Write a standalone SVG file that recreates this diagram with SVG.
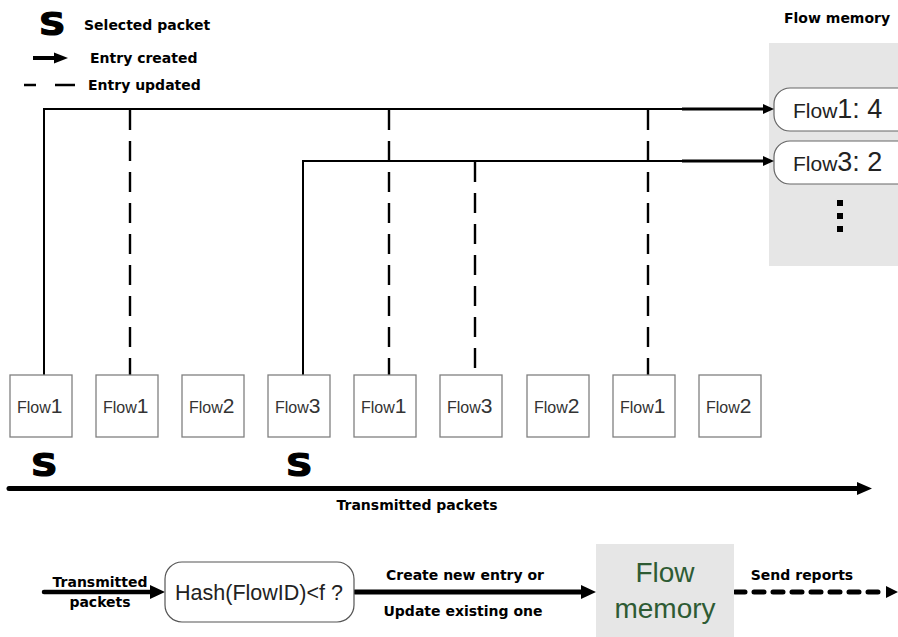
<svg xmlns="http://www.w3.org/2000/svg" width="898" height="637" viewBox="0 0 898 637">
<style>
.lbl{font-family:"DejaVu Sans",sans-serif;font-weight:bold;font-size:14px;fill:#000}
.big{font-family:"DejaVu Sans",sans-serif;font-weight:bold;font-size:32px;fill:#000;stroke:#000;stroke-width:1.2}
.pkt rect{fill:#fff;stroke:#808080;stroke-width:1.3}
.pkt text{font-family:"Liberation Sans",Arial,sans-serif;fill:#333;font-size:16px}
.solid{stroke:#000;stroke-width:2;fill:none}
.dash{stroke:#000;stroke-width:2.4;fill:none;stroke-dasharray:20 11}
.mem{fill:#e6e6e6}
.entry rect{fill:#fff;stroke:#666;stroke-width:1.2}
.entry text{font-family:"Liberation Sans",Arial,sans-serif;fill:#222;font-size:21px}
</style>

<!-- legend -->
<g id="legend">
  <text class="big" x="39" y="35" transform="translate(39 0) scale(1.15 1) translate(-39 0)">S</text>
  <text class="lbl" x="84" y="30">Selected packet</text>
  <line x1="33" y1="58" x2="56" y2="58" stroke="#000" stroke-width="4"/>
  <polygon points="54,52.5 68,58 54,63.5" fill="#000"/>
  <text class="lbl" x="90" y="63">Entry created</text>
  <line x1="24" y1="85" x2="36" y2="85" stroke="#000" stroke-width="2.5"/>
  <line x1="55" y1="85" x2="75" y2="85" stroke="#000" stroke-width="2.5"/>
  <text class="lbl" x="88" y="90">Entry updated</text>
</g>

<!-- flow memory panel -->
<g id="flow-memory">
  <rect class="mem" x="769" y="43" width="129" height="223"/>
  <text class="lbl" x="784" y="23">Flow memory</text>
  <g id="entry1" class="entry">
    <rect x="774" y="88" width="140" height="43" rx="16"/>
    <text x="793" y="118">Flow<tspan style="font-size:27px">1: 4</tspan></text>
  </g>
  <g id="entry3" class="entry">
    <rect x="774" y="141" width="140" height="43" rx="16"/>
    <text x="793" y="171">Flow<tspan style="font-size:27px">3: 2</tspan></text>
  </g>
  <rect x="837" y="200" width="6" height="6" fill="#000"/>
  <rect x="837" y="213" width="6" height="6" fill="#000"/>
  <rect x="837" y="226" width="6" height="6" fill="#000"/>
</g>

<!-- connectors -->
<g id="connectors">
  <polyline class="solid" points="44,375 44,109 684,109"/>
  <line x1="682" y1="109" x2="765" y2="109" stroke="#000" stroke-width="3"/>
  <polygon points="763,104 774,109 763,114" fill="#000"/>
  <polyline class="solid" points="303,375 303,161 684,161"/>
  <line x1="682" y1="161" x2="765" y2="161" stroke="#000" stroke-width="3"/>
  <polygon points="763,156 774,161 763,166" fill="#000"/>
  <line class="dash" x1="130" y1="110" x2="130" y2="375"/>
  <line class="dash" x1="389" y1="110" x2="389" y2="375"/>
  <line class="dash" x1="475" y1="162" x2="475" y2="375"/>
  <line class="dash" x1="648" y1="110" x2="648" y2="375"/>

  <!-- time axis -->
  <line x1="9" y1="488.5" x2="860" y2="488.5" stroke="#000" stroke-width="5" stroke-linecap="round"/>
  <polygon points="857,482 872,488.5 857,495" fill="#000"/>

  <!-- bottom pipeline -->
  <line x1="44" y1="592" x2="153" y2="592" stroke="#000" stroke-width="4.5" stroke-linecap="round"/>
  <polygon points="150,585 165,592 150,599" fill="#000"/>
  <line x1="355" y1="592" x2="584" y2="592" stroke="#000" stroke-width="5" stroke-linecap="round"/>
  <polygon points="581,585 596,592 581,599" fill="#000"/>
  <line x1="735" y1="592" x2="884" y2="592" stroke="#000" stroke-width="5" stroke-dasharray="10 9" stroke-linecap="round"/>
  <polygon points="886,586 898,592 886,598" fill="#000"/>
</g>

<!-- packets -->
<g id="p1" class="pkt"><rect x="10" y="375" width="62" height="62"/><text x="17" y="413">Flow<tspan style="font-size:21px">1</tspan></text></g>
<g id="p2" class="pkt"><rect x="96" y="375" width="62" height="62"/><text x="103" y="413">Flow<tspan style="font-size:21px">1</tspan></text></g>
<g id="p3" class="pkt"><rect x="182" y="375" width="62" height="62"/><text x="189" y="413">Flow<tspan style="font-size:21px">2</tspan></text></g>
<g id="p4" class="pkt"><rect x="268" y="375" width="62" height="62"/><text x="275" y="413">Flow<tspan style="font-size:21px">3</tspan></text></g>
<g id="p5" class="pkt"><rect x="354" y="375" width="62" height="62"/><text x="361" y="413">Flow<tspan style="font-size:21px">1</tspan></text></g>
<g id="p6" class="pkt"><rect x="440" y="375" width="62" height="62"/><text x="447" y="413">Flow<tspan style="font-size:21px">3</tspan></text></g>
<g id="p7" class="pkt"><rect x="527" y="375" width="62" height="62"/><text x="534" y="413">Flow<tspan style="font-size:21px">2</tspan></text></g>
<g id="p8" class="pkt"><rect x="613" y="375" width="62" height="62"/><text x="620" y="413">Flow<tspan style="font-size:21px">1</tspan></text></g>
<g id="p9" class="pkt"><rect x="699" y="375" width="62" height="62"/><text x="706" y="413">Flow<tspan style="font-size:21px">2</tspan></text></g>

<g id="selected">
  <text class="big" x="31" y="476" transform="translate(31 0) scale(1.15 1) translate(-31 0)">S</text>
  <text class="big" x="286" y="476" transform="translate(286 0) scale(1.15 1) translate(-286 0)">S</text>
</g>

<text class="lbl" x="417" y="510" text-anchor="middle">Transmitted packets</text>

<!-- bottom pipeline nodes -->
<g id="in-label">
  <text class="lbl" x="100" y="587" text-anchor="middle">Transmitted</text>
  <text class="lbl" x="100" y="607" text-anchor="middle">packets</text>
</g>
<g id="hash">
  <rect x="165" y="562" width="189" height="60" rx="17" fill="#fff" stroke="#555" stroke-width="1.2"/>
  <text x="259" y="599.5" text-anchor="middle" font-family="Liberation Sans, Arial, sans-serif" font-size="21.5" fill="#222">Hash(FlowID)&lt;f ?</text>
</g>
<g id="action-label">
  <text class="lbl" x="465" y="580" text-anchor="middle">Create new entry or</text>
  <text class="lbl" x="463" y="616" text-anchor="middle">Update existing one</text>
</g>
<g id="memory-box">
  <rect class="mem" x="596" y="544" width="138" height="93"/>
  <text x="665" y="582" text-anchor="middle" font-family="Liberation Sans, Arial, sans-serif" font-size="28" fill="#2e5b34">Flow</text>
  <text x="665" y="618" text-anchor="middle" font-family="Liberation Sans, Arial, sans-serif" font-size="28" fill="#2e5b34">memory</text>
</g>
<text class="lbl" x="802" y="580" text-anchor="middle">Send reports</text>
</svg>
